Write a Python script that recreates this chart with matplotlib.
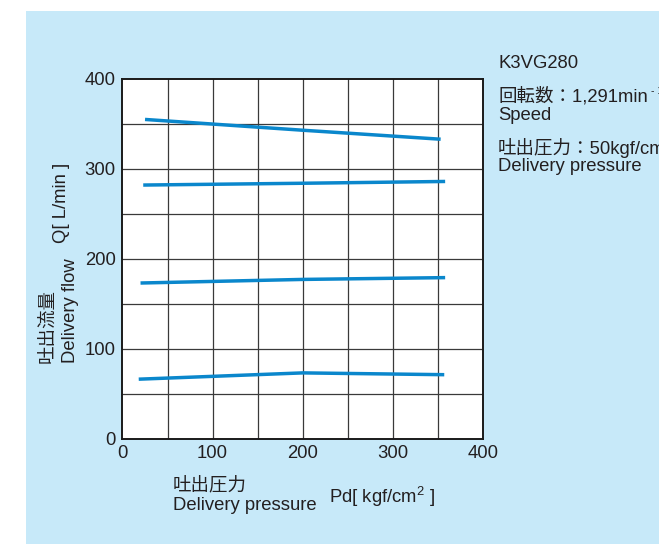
import matplotlib
matplotlib.use("Agg")
import matplotlib.pyplot as plt
from matplotlib.patches import Rectangle

# ---- data ----
pressure_1 = [25, 200, 353]
flow_1 = [355, 343, 333]
pressure_2 = [23, 200, 358]
flow_2 = [282, 284, 286]
pressure_3 = [20, 200, 358]
flow_3 = [173, 177, 179]
pressure_4 = [18, 200, 357]
flow_4 = [66, 73, 71]

x_ticks = [0, 100, 200, 300, 400]
y_ticks = [0, 100, 200, 300, 400]
grid_vals = [50, 100, 150, 200, 250, 300, 350]

W, H = 659, 544
FONT = ['Liberation Sans', 'Noto Sans CJK JP', 'DejaVu Sans']
plt.rcParams['font.family'] = FONT
plt.rcParams['mathtext.fontset'] = 'custom'
plt.rcParams['mathtext.rm'] = 'Liberation Sans'
plt.rcParams['mathtext.it'] = 'Liberation Sans'
TXT = '#231f20'
BLUE = '#0a87cc'
BG = '#c7e9f9'

fig = plt.figure(figsize=(W / 100, H / 100), dpi=100)
fig.patch.set_facecolor('white')
fig.patches.append(Rectangle((26 / W, 0), 1 - 26 / W, 1 - 11 / H,
                             transform=fig.transFigure, facecolor=BG,
                             edgecolor='none', zorder=-10))

def px(x, y):
    return x / W, 1 - y / H

ax = fig.add_axes([122.5 / W, 1 - 438.5 / H, 360.5 / W, 359.5 / H])
ax.set_facecolor('white')
ax.set_xlim(0, 400)
ax.set_ylim(0, 400)
for v in grid_vals:
    ax.axvline(v, color='#3a3a3a', lw=0.9, zorder=1)
    ax.axhline(v, color='#3a3a3a', lw=0.9, zorder=1)
for s in ax.spines.values():
    s.set_color('#1a1a1a')
    s.set_linewidth(1.4)
ax.set_xticks(x_ticks)
ax.set_yticks(y_ticks)
fs = 13.3
ax.tick_params(length=0, labelsize=fs, labelcolor=TXT)
ax.tick_params(axis='x', pad=5)
ax.tick_params(axis='y', pad=5)

for xs, ys in [(pressure_1, flow_1), (pressure_2, flow_2),
               (pressure_3, flow_3), (pressure_4, flow_4)]:
    ax.plot(xs, ys, color=BLUE, lw=2.5, solid_capstyle='butt', zorder=3)

# right-side annotation
fig.text(*px(498, 68.5), 'K3VG280', fontsize=fs, color=TXT, va='baseline', ha='left')
t_speed = fig.text(*px(498, 102), '回転数：1,291min', fontsize=fs, color=TXT,
                   va='baseline', ha='left')
fig.text(*px(498, 119.5), 'Speed', fontsize=fs, color=TXT, va='baseline', ha='left')
fig.text(*px(498, 153.5), '吐出圧力：50kgf/cm', fontsize=fs, color=TXT,
         va='baseline', ha='left')
fig.text(*px(498, 171.5), 'Delivery pressure', fontsize=fs, color=TXT,
         va='baseline', ha='left')

fig.canvas.draw()
r = fig.canvas.get_renderer()
bb = t_speed.get_window_extent(r)
fig.text((bb.x1 + 3) / W, 1 - 94 / H, '- 1', fontsize=7.5, color=TXT,
         va='baseline', ha='left')

# bottom x-axis label
fig.text(*px(173, 490), '吐出圧力', fontsize=fs, color=TXT, va='baseline', ha='left')
fig.text(*px(173, 510), 'Delivery pressure', fontsize=fs, color=TXT,
         va='baseline', ha='left')
fig.text(*px(329, 503), 'Pd[ kgf/cm$^{2}$ ]', fontsize=fs, color=TXT,
         va='baseline', ha='left')

# left y-axis label (rotated)
fig.text(*px(47.5, 363), '吐出流量', fontsize=fs, color=TXT, rotation=90,
         rotation_mode='anchor', ha='left', va='center')
fig.text(*px(75, 363), 'Delivery flow', fontsize=fs, color=TXT, rotation=90,
         rotation_mode='anchor', ha='left', va='baseline')
fig.text(*px(66, 243), 'Q[ L/min ]', fontsize=fs, color=TXT, rotation=90,
         rotation_mode='anchor', ha='left', va='baseline')

fig.savefig('out.png', dpi=100)
